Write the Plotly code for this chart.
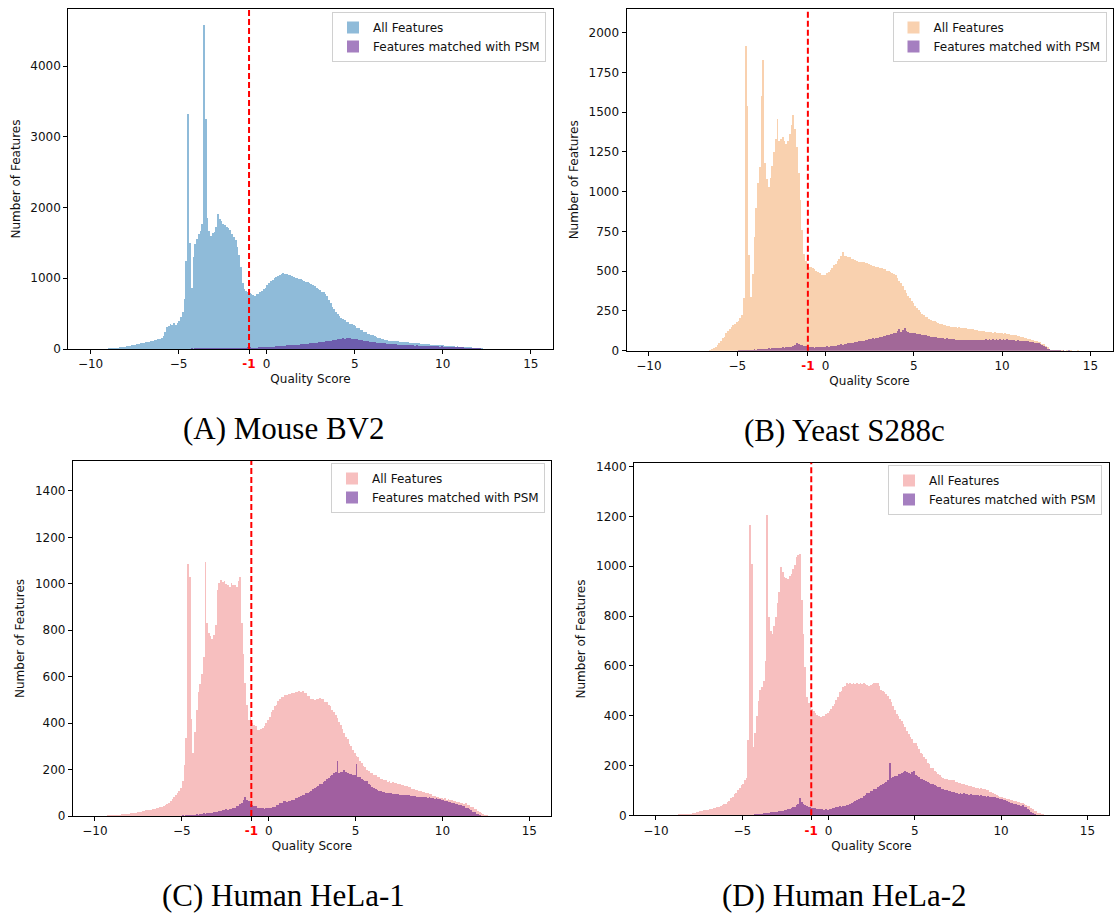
import numpy as np
import plotly.graph_objects as go

BIN_WIDTH = 0.1

# ---------------- (A) Mouse BV2 ----------------
mouse_all_start = -10.0
mouse_all = [
    0, 0, 0, 0, 2, 4, 5, 4, 6, 7,
    8, 10, 11, 14, 15, 18, 23, 25, 31, 33,
    39, 43, 48, 51, 59, 61, 69, 71, 79, 83,
    91, 95, 102, 104, 112, 117, 124, 127, 136, 139,
    152, 178, 236, 304, 322, 351, 342, 361, 338, 372,
    402, 448, 517, 702, 1248, 3320, 1496, 861, 1302, 1484,
    1556, 1631, 1672, 1763, 4580, 3250, 1846, 1662, 1598, 1643,
    1652, 1724, 1910, 1842, 1806, 1762, 1758, 1724, 1716, 1688,
    1624, 1588, 1546, 1448, 1334, 1158, 934, 842, 818, 804,
    792, 771, 768, 756, 772, 781, 803, 818, 847, 868,
    903, 926, 964, 982, 1004, 1012, 1036, 1041, 1058, 1072,
    1063, 1058, 1041, 1043, 1026, 1022, 1006, 1003, 986, 988,
    972, 968, 951, 947, 932, 922, 902, 893, 868, 852,
    833, 812, 803, 776, 752, 698, 653, 597, 562, 518,
    492, 462, 443, 418, 407, 388, 377, 357, 352, 338,
    327, 303, 292, 272, 262, 243, 234, 218, 212, 198,
    192, 178, 172, 158, 154, 143, 140, 128, 127, 118,
    119, 113, 114, 108, 109, 103, 104, 98, 99, 94,
    96, 91, 91, 86, 86, 80, 81, 76, 76, 71,
    71, 67, 67, 63, 63, 59, 59, 55, 55, 51,
    51, 47, 47, 43, 43, 39, 39, 35, 36, 32,
    33, 29, 29, 26, 26, 22, 22, 18, 18, 14,
    14, 10, 10, 6, 6, 3, 3, 1, 1, 0,
]
mouse_psm_start = -5.0
mouse_psm = [
    3, 5, 4, 6, 5, 7, 6, 8, 7, 9,
    8, 10, 9, 11, 10, 11, 10, 12, 11, 13,
    12, 13, 14, 13, 15, 14, 15, 14, 16, 15,
    17, 16, 18, 17, 19, 20, 19, 21, 20, 23,
    22, 21, 20, 21, 21, 23, 22, 25, 24, 28,
    27, 31, 31, 35, 35, 39, 39, 43, 43, 47,
    47, 51, 51, 55, 55, 59, 59, 63, 63, 67,
    67, 71, 72, 77, 78, 83, 84, 89, 90, 95,
    96, 101, 103, 109, 111, 117, 119, 125, 127, 133,
    135, 141, 143, 149, 148, 153, 149, 149, 144, 143,
    137, 135, 129, 127, 121, 119, 113, 111, 105, 103,
    97, 96, 91, 90, 85, 84, 79, 79, 75, 75,
    71, 71, 67, 67, 63, 63, 59, 59, 56, 57,
    54, 55, 51, 52, 49, 50, 47, 48, 45, 46,
    43, 44, 41, 42, 39, 40, 37, 38, 35, 36,
    33, 34, 31, 32, 29, 30, 27, 28, 25, 26,
    23, 24, 21, 21, 18, 19, 15, 16, 13, 13,
    10, 9, 6, 5, 3, 2, 1, 1, 0, 0,
]

# ---------------- (B) Yeast S288c ----------------
yeast_all_start = -7.0
yeast_all = [
    0, 0, 0, 1, 3, 8, 15, 26, 34, 47,
    58, 77, 88, 112, 123, 138, 148, 163, 168, 182,
    184, 203, 224, 331, 1916, 1540, 602, 338, 482, 718,
    896, 1052, 1158, 1604, 1830, 1178, 1083, 1028, 1084, 1163,
    1248, 1332, 1455, 1322, 1334, 1345, 1316, 1302, 1318, 1366,
    1418, 1480, 1396, 1282, 1118, 948, 762, 608, 562, 538,
    528, 526, 518, 511, 502, 494, 487, 479, 476, 479,
    486, 493, 507, 518, 536, 548, 567, 578, 597, 621,
    598, 596, 588, 587, 578, 577, 568, 566, 560, 561,
    555, 556, 550, 551, 543, 541, 533, 531, 526, 526,
    519, 519, 513, 511, 503, 501, 493, 491, 480, 476,
    458, 441, 423, 406, 383, 362, 343, 331, 313, 301,
    283, 271, 256, 246, 233, 226, 213, 209, 198, 196,
    188, 186, 178, 176, 168, 167, 160, 161, 155, 156,
    150, 151, 146, 148, 144, 146, 142, 144, 140, 142,
    138, 139, 134, 135, 130, 131, 126, 127, 122, 123,
    119, 120, 116, 118, 114, 116, 112, 114, 110, 112,
    108, 109, 104, 105, 100, 101, 96, 96, 91, 90,
    85, 84, 79, 78, 74, 73, 68, 67, 62, 61,
    56, 52, 45, 41, 32, 23, 12, 7, 4, 3,
    3, 2, 3, 2, 2, 1, 2, 1, 2, 1,
    1, 1, 2, 1, 1, 1, 1, 0, 1, 0,
]
yeast_psm_start = -5.0
yeast_psm = [
    2, 3, 4, 3, 5, 4, 6, 5, 7, 8,
    7, 9, 10, 9, 12, 11, 13, 14, 13, 16,
    15, 18, 17, 19, 18, 21, 20, 23, 22, 26,
    26, 31, 38, 47, 41, 36, 35, 29, 28, 24,
    25, 22, 23, 20, 22, 21, 24, 23, 26, 25,
    27, 26, 30, 29, 32, 32, 36, 36, 40, 39,
    43, 43, 47, 47, 51, 51, 56, 55, 61, 60,
    64, 63, 68, 67, 72, 71, 77, 76, 82, 83,
    87, 86, 92, 91, 97, 97, 103, 104, 111, 114,
    122, 136, 117, 129, 141, 121, 119, 114, 113, 109,
    110, 106, 106, 102, 101, 97, 97, 93, 93, 89,
    89, 86, 87, 83, 83, 79, 80, 76, 77, 74,
    75, 71, 71, 68, 69, 66, 68, 66, 68, 66,
    68, 66, 68, 66, 68, 67, 69, 67, 70, 69,
    71, 69, 72, 70, 72, 70, 73, 70, 72, 70,
    72, 69, 71, 68, 69, 66, 67, 64, 65, 62,
    64, 61, 62, 59, 60, 56, 56, 52, 51, 47,
    47, 41, 37, 28, 21, 11, 8, 5, 3, 2,
    2, 2, 2, 1, 2, 1, 1, 2, 1, 1,
    1, 1, 1, 1, 1, 1, 1, 1, 0, 0,
]

# ---------------- (C) Human HeLa-1 ----------------
hela1_all_start = -10.0
hela1_all = [
    0, 0, 0, 0, 1, 2, 2, 3, 3, 4,
    4, 5, 5, 6, 6, 7, 7, 8, 9, 10,
    11, 12, 13, 15, 16, 18, 19, 21, 23, 25,
    26, 28, 27, 31, 30, 34, 35, 38, 40, 45,
    47, 53, 57, 66, 72, 83, 89, 101, 108, 119,
    152, 218, 334, 1085, 1030, 418, 272, 362, 458, 532,
    568, 612, 684, 1093, 832, 788, 776, 764, 778, 822,
    972, 1004, 1017, 1008, 1012, 998, 996, 988, 1004, 994,
    996, 988, 1012, 1030, 832, 698, 572, 478, 412, 426,
    402, 391, 386, 371, 369, 374, 377, 386, 399, 415,
    428, 447, 455, 472, 480, 497, 505, 514, 514, 523,
    521, 527, 525, 531, 529, 535, 532, 538, 534, 537,
    530, 529, 519, 516, 506, 503, 498, 505, 504, 509,
    505, 503, 493, 490, 478, 472, 458, 449, 434, 421,
    403, 392, 373, 358, 340, 330, 311, 301, 283, 272,
    258, 252, 238, 230, 216, 210, 198, 194, 184, 186,
    178, 177, 168, 167, 160, 160, 153, 154, 148, 150,
    144, 147, 141, 143, 137, 139, 133, 135, 129, 131,
    123, 124, 117, 118, 111, 113, 107, 109, 103, 105,
    99, 101, 96, 96, 88, 88, 81, 83, 77, 79,
    74, 77, 71, 73, 67, 69, 63, 65, 60, 62,
    56, 58, 53, 54, 47, 47, 39, 39, 30, 29,
    20, 18, 11, 10, 5, 4, 2, 1, 0, 0,
]
hela1_psm_start = -5.0
hela1_psm = [
    3, 2, 4, 3, 5, 4, 6, 5, 7, 6,
    8, 9, 11, 10, 13, 12, 15, 14, 17, 18,
    19, 21, 22, 25, 24, 29, 28, 31, 30, 34,
    35, 41, 44, 53, 58, 71, 83, 70, 64, 51,
    48, 43, 41, 36, 36, 33, 34, 32, 34, 33,
    34, 33, 37, 39, 46, 49, 56, 58, 64, 65,
    61, 65, 65, 70, 71, 77, 79, 84, 85, 91,
    92, 97, 97, 104, 109, 117, 121, 127, 129, 136,
    140, 147, 151, 159, 164, 171, 175, 184, 189, 238,
    184, 189, 190, 196, 189, 187, 181, 179, 176, 177,
    224, 169, 166, 159, 156, 149, 149, 139, 133, 124,
    121, 115, 113, 109, 109, 104, 104, 100, 100, 97,
    98, 95, 96, 93, 94, 91, 92, 89, 91, 89,
    90, 87, 88, 85, 86, 83, 84, 82, 84, 81,
    82, 79, 80, 77, 78, 75, 76, 72, 72, 68,
    68, 64, 64, 61, 61, 57, 57, 52, 51, 46,
    46, 41, 41, 36, 34, 29, 26, 19, 16, 9,
    7, 3, 2, 1, 0, 0, 0, 0, 0, 0,
]

# ---------------- (D) Human HeLa-2 ----------------
hela2_all_start = -10.0
hela2_all = [
    0, 0, 0, 0, 0, 1, 2, 2, 3, 3,
    3, 4, 4, 5, 5, 6, 6, 7, 7, 8,
    8, 10, 12, 15, 16, 19, 20, 22, 22, 24,
    24, 26, 27, 30, 31, 34, 35, 39, 41, 46,
    48, 54, 59, 69, 75, 85, 89, 101, 109, 121,
    128, 141, 153, 302, 1166, 1012, 276, 332, 398, 462,
    503, 518, 542, 622, 1206, 798, 742, 729, 762, 796,
    852, 898, 999, 978, 958, 953, 952, 962, 972, 991,
    1008, 1039, 1046, 1052, 865, 731, 598, 477, 452, 436,
    429, 421, 411, 404, 399, 395, 399, 401, 407, 411,
    421, 428, 441, 449, 466, 478, 496, 502, 516, 521,
    531, 528, 532, 529, 531, 528, 533, 529, 531, 528,
    531, 527, 526, 522, 526, 527, 533, 532, 531, 519,
    506, 501, 496, 487, 481, 468, 456, 439, 426, 409,
    401, 388, 381, 367, 356, 338, 326, 314, 306, 293,
    290, 278, 269, 253, 246, 234, 226, 213, 206, 193,
    191, 181, 177, 167, 164, 155, 152, 148, 148, 144,
    144, 141, 141, 136, 135, 130, 129, 125, 125, 121,
    122, 119, 119, 115, 116, 112, 112, 108, 109, 105,
    105, 101, 101, 96, 95, 89, 87, 81, 79, 74,
    74, 71, 71, 67, 67, 63, 63, 59, 59, 55,
    56, 52, 51, 46, 44, 39, 37, 30, 27, 20,
    18, 12, 11, 7, 6, 2, 2, 1, 0, 0,
]
hela2_psm_start = -5.0
hela2_psm = [
    2, 2, 3, 3, 3, 4, 4, 5, 6, 7,
    8, 8, 9, 10, 11, 11, 13, 14, 15, 15,
    16, 17, 18, 20, 22, 24, 26, 28, 30, 33,
    35, 41, 45, 70, 56, 48, 43, 38, 36, 33,
    32, 29, 29, 26, 27, 25, 25, 23, 25, 24,
    27, 26, 29, 29, 33, 34, 37, 36, 39, 39,
    42, 43, 48, 49, 56, 57, 63, 65, 69, 71,
    79, 83, 89, 91, 97, 99, 105, 107, 115, 119,
    123, 125, 131, 135, 143, 210, 151, 154, 161, 161,
    166, 167, 173, 174, 179, 174, 173, 169, 176, 179,
    163, 159, 156, 149, 147, 141, 139, 133, 131, 127,
    127, 121, 119, 114, 113, 107, 106, 101, 101, 97,
    97, 93, 93, 90, 91, 88, 89, 87, 89, 86,
    87, 84, 85, 82, 83, 81, 83, 80, 81, 78,
    79, 76, 77, 74, 76, 73, 73, 69, 69, 65,
    65, 61, 61, 57, 56, 51, 50, 47, 47, 43,
    43, 40, 41, 35, 33, 26, 22, 14, 11, 5,
    3, 2, 1, 0, 0, 0, 0, 0, 0, 0,
]

captions = ["(A) Mouse BV2", "(B) Yeast S288c", "(C) Human HeLa-1", "(D) Human HeLa-2"]
all_colors = ["rgba(31,119,180,0.5)", "rgba(244,164,96,0.5)",
              "rgba(240,128,128,0.5)", "rgba(240,128,128,0.5)"]
psm_color = "rgba(75,0,130,0.5)"
y_tick_vals = [
    [0, 1000, 2000, 3000, 4000],
    [0, 250, 500, 750, 1000, 1250, 1500, 1750, 2000],
    [0, 200, 400, 600, 800, 1000, 1200, 1400],
    [0, 200, 400, 600, 800, 1000, 1200, 1400],
]
y_max = [4806, 2149, 1529, 1416]
x_tick_vals = [-10, -5, -1, 0, 5, 10, 15]
x_tick_text = ["\u221210", "\u22125", "<span style='color:red'><b>-1</b></span>",
               "0", "5", "10", "15"]
threshold = -1

series = [
    (mouse_all_start, mouse_all, mouse_psm_start, mouse_psm),
    (yeast_all_start, yeast_all, yeast_psm_start, yeast_psm),
    (hela1_all_start, hela1_all, hela1_psm_start, hela1_psm),
    (hela2_all_start, hela2_all, hela2_psm_start, hela2_psm),
]

W, H = 1114, 915
# plot-area boxes in pixels: left, right, top, bottom
boxes = [(68.2, 552.8, 9, 349), (626.5, 1112.5, 9, 350.7),
         (72.9, 551, 461, 816), (634, 1109, 462.7, 815.3)]
legend_pos = [(546, 12), (1106.5, 12), (545, 463), (1102, 465)]
caption_pos = [(284, 428), (844, 430), (283.5, 895), (844, 895)]


def centers(start, vals):
    return start + BIN_WIDTH * (np.arange(len(vals)) + 0.5)


fig = go.Figure()
font = "DejaVu Sans"
layout = dict(
    width=W, height=H, margin=dict(l=0, r=0, t=0, b=0),
    paper_bgcolor="white", plot_bgcolor="white",
    barmode="overlay", bargap=0,
    font=dict(family=font, size=12, color="#111"),
    showlegend=True,
)

for i, (s_all, v_all, s_psm, v_psm) in enumerate(series):
    k = "" if i == 0 else str(i + 1)
    leg = "legend" + k
    fig.add_trace(go.Bar(
        x=centers(s_all, v_all), y=v_all, width=BIN_WIDTH,
        marker=dict(color=all_colors[i], line=dict(width=0)),
        name="All Features", xaxis="x" + k, yaxis="y" + k, legend=leg,
    ))
    fig.add_trace(go.Bar(
        x=centers(s_psm, v_psm), y=v_psm, width=BIN_WIDTH,
        marker=dict(color=psm_color, line=dict(width=0)),
        name="Features matched with PSM", xaxis="x" + k, yaxis="y" + k, legend=leg,
    ))
    l, r, t, b = boxes[i]
    layout["xaxis" + k] = dict(
        domain=[l / W, r / W], anchor="y" + k, range=[-11.27, 16.25],
        tickvals=x_tick_vals, ticktext=x_tick_text,
        showline=True, mirror=True, linecolor="black", linewidth=1,
        ticks="outside", ticklen=4, tickwidth=1, tickcolor="black",
        showgrid=False, zeroline=False, automargin=False,
        tickfont=dict(family=font, size=12, color="#111"),
        title=dict(text="Quality Score", standoff=4,
                   font=dict(family=font, size=12, color="#111")),
    )
    layout["yaxis" + k] = dict(
        domain=[1 - b / H, 1 - t / H], anchor="x" + k, range=[0, y_max[i]],
        tickvals=y_tick_vals[i],
        showline=True, mirror=True, linecolor="black", linewidth=1,
        ticks="outside", ticklen=4, tickwidth=1, tickcolor="black",
        showgrid=False, zeroline=False, automargin=False,
        tickfont=dict(family=font, size=12, color="#111"),
        title=dict(text="Number of Features", standoff=7,
                   font=dict(family=font, size=12, color="#111")),
    )
    lx, ly = legend_pos[i]
    layout[leg] = dict(
        x=lx / W, y=1 - ly / H, xanchor="right", yanchor="top",
        xref="paper", yref="paper",
        bgcolor="rgba(255,255,255,0.8)", bordercolor="#d0d0d0", borderwidth=1,
        font=dict(family=font, size=12, color="#111"),
        tracegroupgap=0, itemsizing="constant",
    )
    fig.add_shape(type="line", xref="x" + k, yref="y" + k + " domain",
                  x0=threshold, x1=threshold, y0=0, y1=1,
                  line=dict(color="red", width=2, dash="6px,3px"))
    cx, cy = caption_pos[i]
    fig.add_annotation(text=captions[i], xref="paper", yref="paper",
                       x=cx / W, y=1 - cy / H, xanchor="center", yanchor="middle",
                       showarrow=False,
                       font=dict(family="Liberation Serif", size=31, color="black"))

fig.update_layout(**layout)
fig.write_html(
    "out.html",
    config={"displayModeBar": False},
    post_script="document.body.style.margin='0';document.body.style.overflow='hidden';",
)
